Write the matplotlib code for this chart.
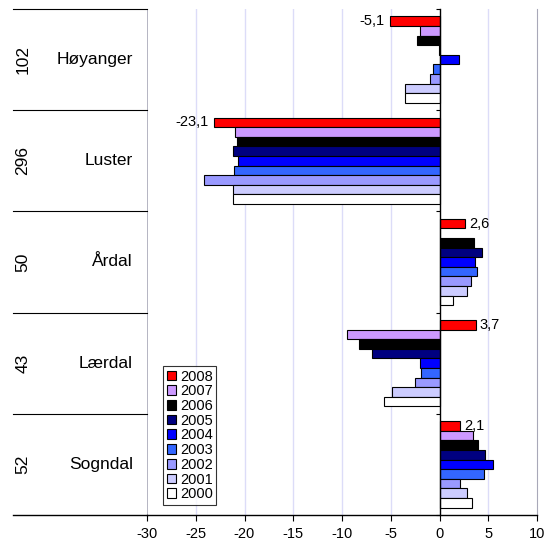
import numpy as np
import matplotlib.pyplot as plt
from matplotlib.transforms import blended_transform_factory

plt.rcParams['font.family'] = ['Liberation Sans', 'DejaVu Sans']
plt.rcParams['axes.unicode_minus'] = False

kommuner = ['Høyanger', 'Luster', 'Årdal', 'Lærdal', 'Sogndal']
antall = ['102', '296', '50', '43', '52']
years = ['2008', '2007', '2006', '2005', '2004', '2003', '2002', '2001', '2000']
colors = ['#FF0000', '#CC99FF', '#000000', '#000080', '#0000FF',
          '#3366FF', '#9999FF', '#CCCCFF', '#FFFFFF']

# one row per year (top to bottom), one column per kommune
values = {
    '2008': [-5.1, -23.1, 2.6, 3.7, 2.1],
    '2007': [-2.0, -21.0, 0.0, -9.5, 3.4],
    '2006': [-2.3, -20.8, 3.5, -8.3, 3.9],
    '2005': [-0.1, -21.2, 4.4, -6.9, 4.7],
    '2004': [2.0, -20.7, 3.6, -2.0, 5.5],
    '2003': [-0.7, -21.1, 3.8, -1.9, 4.6],
    '2002': [-1.0, -24.2, 3.2, -2.5, 2.1],
    '2001': [-3.5, -21.2, 2.8, -4.9, 2.8],
    '2000': [-3.5, -21.2, 1.4, -5.7, 3.3],
}

W, H = 545, 542
fig = plt.figure(figsize=(W / 100, H / 100), dpi=100)
ax = fig.add_axes([147 / W, (H - 515) / H, 390 / W, 506 / H])

n = len(years)
slot = 0.095
base = np.arange(len(kommuner))
for j, yr in enumerate(years):
    pos = base + (j - (n - 1) / 2) * slot
    ax.barh(pos, values[yr], height=slot, color=colors[j],
            edgecolor='black', linewidth=0.8, label=yr, zorder=3)

# labels for 2008
pos08 = base - (n - 1) / 2 * slot
for y, v in zip(pos08, values['2008']):
    txt = f'{v:.1f}'.replace('.', ',')
    if v < 0:
        ax.annotate(txt, (v, y), xytext=(-4, 0), textcoords='offset points',
                    ha='right', va='center', fontsize=10.5)
    else:
        ax.annotate(txt, (v, y), xytext=(3, 0), textcoords='offset points',
                    ha='left', va='center', fontsize=10.5)

ax.set_xlim(-30, 10)
ax.set_ylim(len(kommuner) - 0.5, -0.5)
ax.set_xticks(np.arange(-30, 11, 5))
ax.tick_params(axis='x', direction='out', length=4, width=0.8,
               labelsize=10.5, pad=5, colors='black')
for x in range(-25, 10, 5):
    if x != 0:
        ax.axvline(x, color='#DCDCF8', lw=1, zorder=0)

# category axis at zero
ax.spines['left'].set_position(('data', 0))
ax.spines['left'].set_color('black')
ax.spines['left'].set_linewidth(1)
ax.spines['left'].set_zorder(4)
ax.set_yticks(np.arange(len(kommuner) + 1) - 0.5)
ax.set_yticklabels([])
ax.tick_params(axis='y', direction='out', length=3, width=0.8)
ax.spines['top'].set_visible(False)
ax.spines['right'].set_color('#A8A8B8')
ax.spines['bottom'].set_linewidth(1)
ax.axvline(-30, color='#A8A8B8', lw=1.2, zorder=1)

# table on the left
tr = blended_transform_factory(ax.transAxes, ax.transData)
x0 = (13 - 147) / 390
for b in np.arange(len(kommuner)) - 0.5:
    ax.plot([x0, 0], [b, b], color='black', lw=0.8, transform=tr, clip_on=False)
ax.plot([x0, 0], [len(kommuner) - 0.5] * 2, color='black', lw=1,
        transform=tr, clip_on=False)
for i, (k, a) in enumerate(zip(kommuner, antall)):
    ax.text((133 - 147) / 390, i, k, transform=tr, ha='right', va='center',
            fontsize=12.5)
    ax.text((23 - 147) / 390, i, a, transform=tr, ha='center', va='center',
            rotation=90, fontsize=12.5)

leg = ax.legend(loc='lower left', bbox_to_anchor=((163 - 147) / 390, (515 - 505) / 506),
                fontsize=10.5, frameon=True, fancybox=False, borderpad=0.25,
                labelspacing=0.05, handlelength=0.65, handleheight=0.65,
                handletextpad=0.25, borderaxespad=0)
leg.get_frame().set_edgecolor('black')
leg.get_frame().set_linewidth(0.8)
leg.set_zorder(5)

fig.savefig('out.png', dpi=100)
